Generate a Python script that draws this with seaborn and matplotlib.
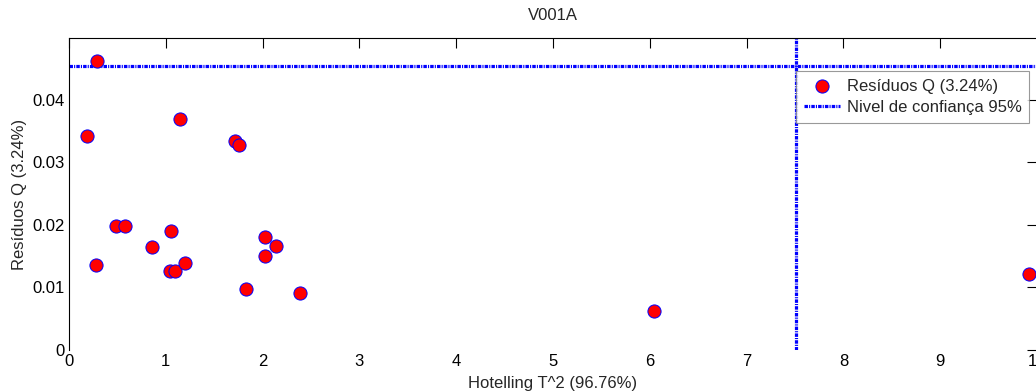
import matplotlib
matplotlib.use("Agg")
import matplotlib.pyplot as plt
import seaborn as sns
import pandas as pd

# Hotelling T^2 e residuos Q de cada amostra
t2 = [0.19, 0.29, 1.15, 1.72, 1.76, 0.28, 0.49, 0.58, 0.86, 1.05,
      1.04, 1.09, 1.20, 1.83, 2.02, 2.14, 2.02, 2.39, 6.04, 9.92]
q = [0.0342, 0.0462, 0.0370, 0.0334, 0.0328, 0.01355, 0.0199, 0.0199, 0.0164, 0.0191,
     0.0126, 0.0127, 0.0139, 0.0097, 0.0181, 0.0166, 0.0151, 0.0091, 0.0063, 0.0121]

# limites de confianca 95%
lim_t2 = 7.51
lim_q = 0.0454

x_ticks = list(range(0, 11))
y_ticks = [0, 0.01, 0.02, 0.03, 0.04]
y_tick_labels = ['0', '0.01', '0.02', '0.03', '0.04']

df = pd.DataFrame({'T2': t2, 'Q': q})

sns.set_style("white")
plt.rcParams['font.family'] = ['Liberation Sans', 'DejaVu Sans']
plt.rcParams['lines.scale_dashes'] = False

fig = plt.figure(figsize=(10.36, 3.91), dpi=100)
ax = fig.add_axes([69 / 1036, 41 / 391, (1037 - 69) / 1036, (350 - 38) / 391])

sns.scatterplot(data=df, x='T2', y='Q', ax=ax, s=90, color='#ff0000',
                edgecolor='#0000ff', linewidth=0.7, label='Resíduos Q (3.24%)', zorder=3)
ax.axhline(lim_q, color='#0000ff', lw=2.3, dashes=(2.5, 0.8, 0.8, 0.8),
           label='Nivel de confiança 95%', zorder=2)
ax.axvline(lim_t2, color='#0000ff', lw=2.3, dashes=(2.5, 0.8, 0.8, 0.8), zorder=2)

ax.set_xlim(0, 10)
ax.set_ylim(0, 0.0499)
ax.set_xticks(x_ticks)
ax.set_yticks(y_ticks)
ax.set_yticklabels(y_tick_labels)
ax.tick_params(direction='in', length=7, width=0.8, top=True, right=True,
               labelsize=12, colors='black', pad=3)

ax.set_xlabel('Hotelling T^2 (96.76%)', fontsize=12, labelpad=5)
ax.set_ylabel('Resíduos Q (3.24%)', fontsize=12, labelpad=4)
ax.set_title('V001A', fontsize=12, pad=13)

for side in ['left', 'top', 'right']:
    ax.spines[side].set_color('black')
    ax.spines[side].set_linewidth(0.8)
ax.spines['bottom'].set_visible(False)

leg = ax.legend(loc='upper left', bbox_to_anchor=(796 / 1036, 1 - 71 / 391),
                bbox_transform=fig.transFigure, borderaxespad=0, fontsize=12,
                frameon=True, fancybox=False, edgecolor='#808080',
                handlelength=2.2, handletextpad=0.4, borderpad=0.45, labelspacing=0.4)
leg.get_frame().set_linewidth(0.8)

fig.savefig('out.png', dpi=100)
